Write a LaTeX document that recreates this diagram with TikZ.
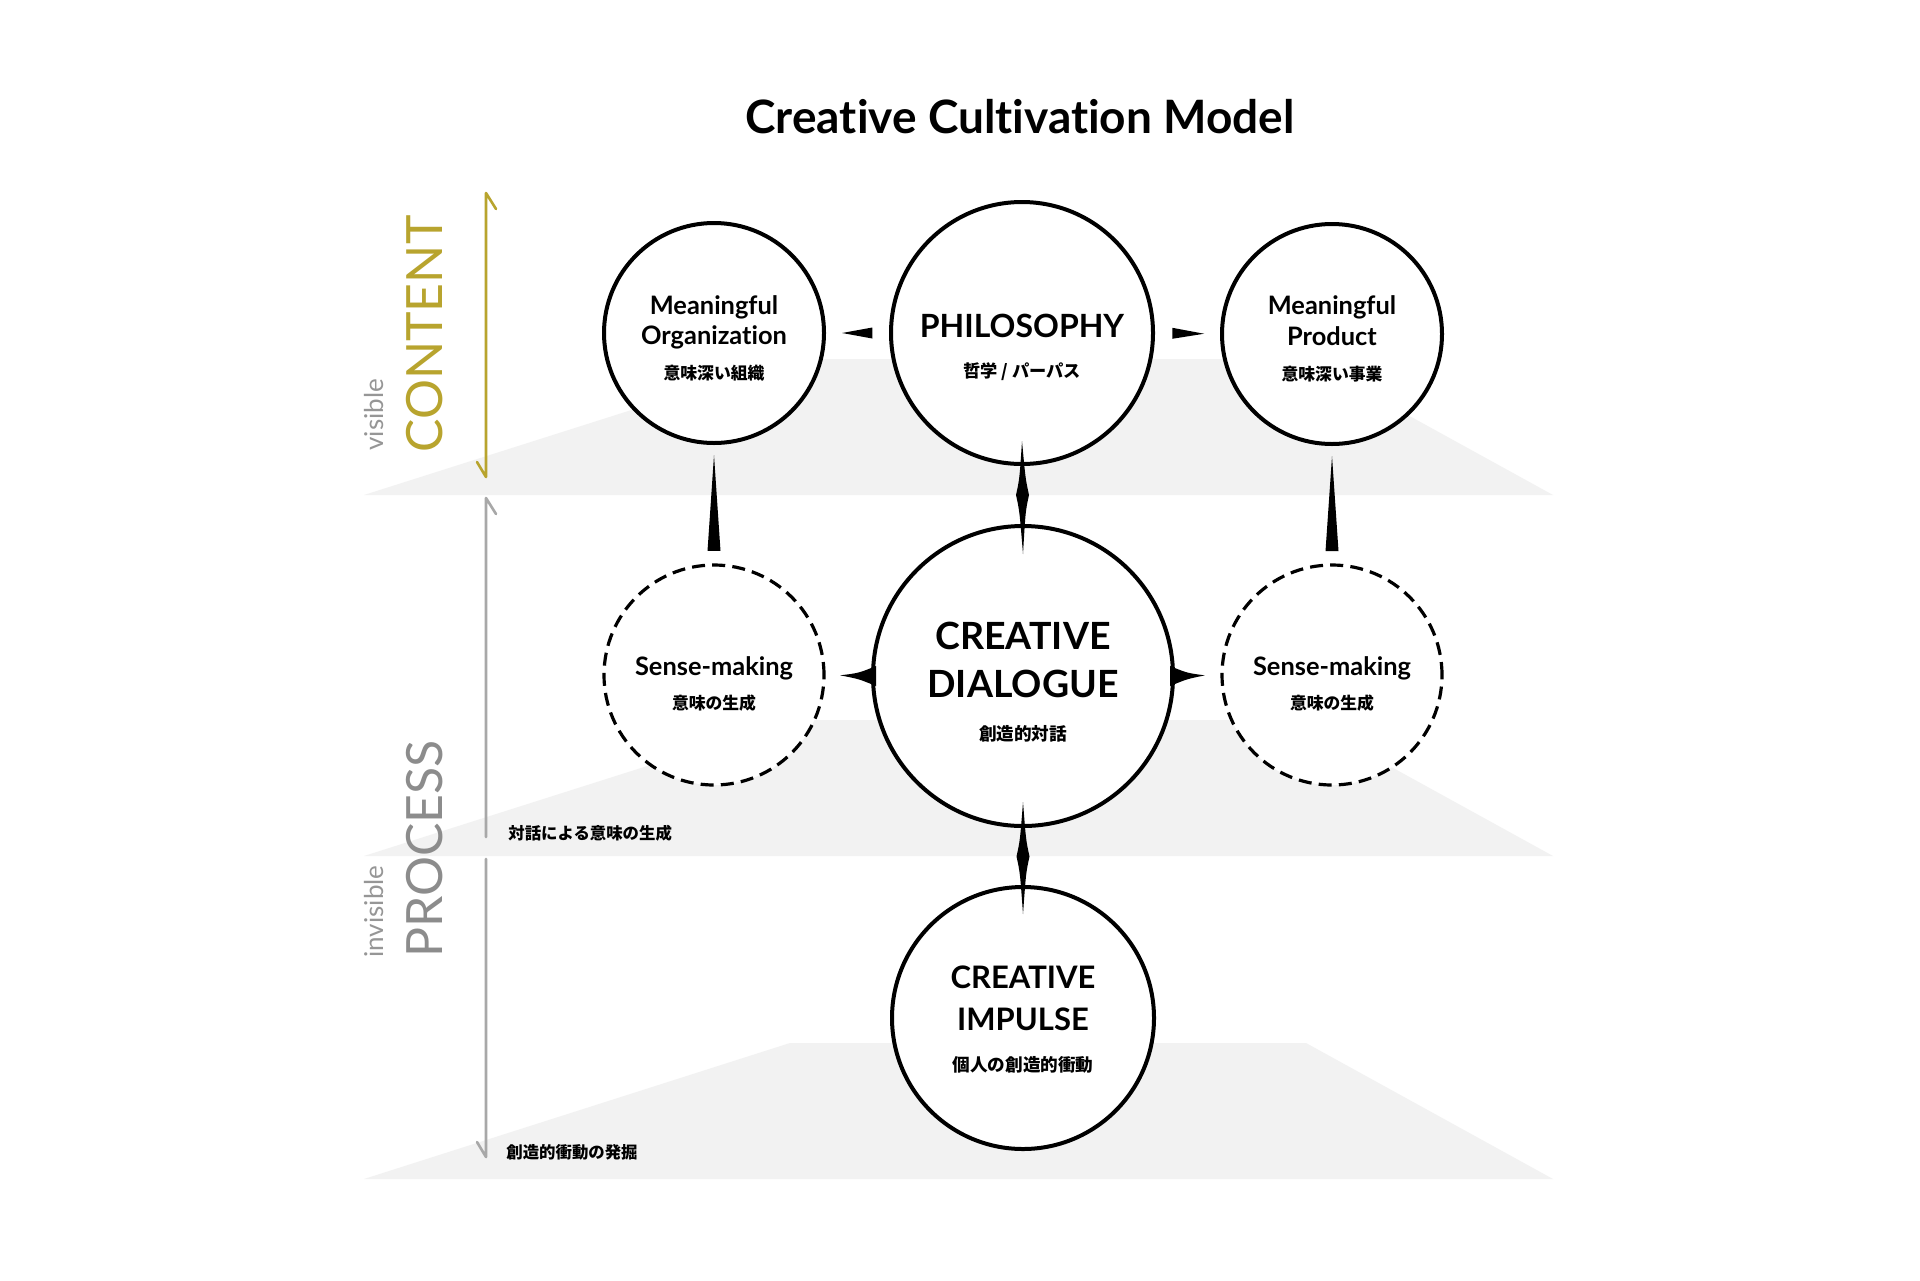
\documentclass[tikz,border=0pt]{standalone}
\usepackage{fontspec}
\setmainfont{Lato}[Ligatures=NoCommon,RawFeature=-liga]
\newfontfamily\jp{Noto Sans CJK JP}
\usetikzlibrary{calc}
\definecolor{gold}{RGB}{184,164,46}
\definecolor{axisgrey}{RGB}{168,168,168}
\definecolor{txtgrey}{RGB}{150,150,150}
\definecolor{procgrey}{RGB}{140,140,140}
\definecolor{plane}{RGB}{242,242,242}
\begin{document}
\begin{tikzpicture}[x=0.5pt,y=-0.5pt,
  bubble/.style={circle,draw=black,line width=2pt,fill=white,inner sep=0pt,outer sep=0pt},
  dashbubble/.style={bubble,line width=1.6pt,dash pattern=on 6.5pt off 3.6pt},
  en/.style={inner sep=0pt,text height=0.72em,text depth=0pt,font=\bfseries\fontsize{#1}{#1}\selectfont},
  ja/.style={inner sep=0pt,text height=0.76em,text depth=0pt,font=\jp\bfseries\fontsize{#1}{#1}\selectfont},
  axislbl/.style={rotate=90,anchor=base west,inner sep=0pt,font=\fontsize{#1}{#1}\selectfont},
  axisline/.style={line width=1.3pt,line cap=round,line join=round},
  planefill/.style={fill=plane},
  spike/.style={fill=black}
]
\fill[white] (0,0) rectangle (1920,1280);
\useasboundingbox (0,0) rectangle (1920,1280);

% planes
\fill[planefill] (364,495) -- (1553,495) -- (1306,359) -- (792,359) -- cycle;
\fill[planefill] (364,856) -- (1553,856) -- (1306,720) -- (792,720) -- cycle;
\fill[planefill] (364,1179) -- (1553,1179) -- (1306,1043) -- (790,1043) -- cycle;

% title
\node[en={23}] (title) at (1020,126) {Creative Cultivation Model};

% axis labels
\node[axislbl={13},text=txtgrey] (visible) at (383,451) {visible};
\node[axislbl={25},text=gold] (content) at (442,453) {CONTENT};
\node[axislbl={13},text=txtgrey] (invisible) at (383,958) {invisible};
\node[axislbl={25},text=procgrey] (process) at (442,958) {PROCESS};

% axis arrows
\coordinate (cTop) at (486,193);
\coordinate (cBot) at (486,477);
\draw[axisline,gold] ($(cTop)+(10,16)$) -- (cTop) -- (cBot) -- ($(cBot)+(-9,-15)$);
\coordinate (pTop) at (486,498);
\coordinate (pGapA) at (486,837);
\coordinate (pGapB) at (486,859);
\coordinate (pBot) at (486,1157);
\draw[axisline,axisgrey] ($(pTop)+(10,16)$) -- (pTop) -- (pGapA);
\draw[axisline,axisgrey] (pGapB) -- (pBot) -- ($(pBot)+(-9,-15)$);

% layer labels
\node[ja={8.2},anchor=west] (lay2) at (508,832) {対話による意味の生成};
\node[ja={8.2},anchor=west] (lay3) at (506,1151) {創造的衝動の発掘};

% circles
\node[bubble,minimum size=110pt] (org) at (714,333) {};
\node[bubble,minimum size=131pt] (phil) at (1022,333) {};
\node[bubble,minimum size=110pt] (prod) at (1332,334) {};
\node[dashbubble,minimum size=110pt] (senseL) at (714,675) {};
\node[bubble,minimum size=150pt] (dial) at (1023,676) {};
\node[dashbubble,minimum size=110pt] (senseR) at (1332,675) {};
\node[bubble,minimum size=131pt] (imp) at (1023,1018) {};

% circle texts
\node[en={12.7}] (orgA) at ($(org.center)+(0,-26)$) {Meaningful};
\node[en={12.7}] (orgB) at ($(org.center)+(0,4)$) {Organization};
\node[ja={8.4}] (orgC) at ($(org.center)+(0,39)$) {意味深い組織};

\node[en={16}] (philA) at ($(phil.center)+(0,-3)$) {PHILOSOPHY};
\node[ja={8.6}] (philB) at ($(phil.center)+(0,37)$) {哲学 / パーパス};

\node[en={12.7}] (prodA) at ($(prod.center)+(0,-27)$) {Meaningful};
\node[en={12.7}] (prodB) at ($(prod.center)+(0,4)$) {Product};
\node[ja={8.4}] (prodC) at ($(prod.center)+(0,39)$) {意味深い事業};

\node[en={12.7}] (senseLA) at ($(senseL.center)+(0,-7)$) {Sense-making};
\node[ja={8.4}] (senseLB) at ($(senseL.center)+(0,27)$) {意味の生成};
\node[en={12.7}] (senseRA) at ($(senseR.center)+(0,-7)$) {Sense-making};
\node[ja={8.4}] (senseRB) at ($(senseR.center)+(0,27)$) {意味の生成};

\node[en={18.75}] (dialA) at ($(dial.center)+(0,-34)$) {CREATIVE};
\node[en={18.75}] (dialB) at ($(dial.center)+(0,14)$) {DIALOGUE};
\node[ja={8.8}] (dialC) at ($(dial.center)+(0,57)$) {創造的対話};

\node[en={15.5}] (impA) at ($(imp.center)+(0,-37)$) {CREATIVE};
\node[en={15.5}] (impB) at ($(imp.center)+(0,5)$) {IMPULSE};
\node[ja={8.8}] (impC) at ($(imp.center)+(0,46)$) {個人の創造的衝動};

% connectors: philosophy row triangles
\fill[spike] ($(org.east)!0.27!(phil.west)$) -- ($(org.east)!0.72!(phil.west)+(0,-5.5)$) -- ($(org.east)!0.72!(phil.west)+(0,5.5)$) -- cycle;
\fill[spike] ($(phil.east)!0.74!(prod.west)$) -- ($(phil.east)!0.28!(prod.west)+(0,-5.5)$) -- ($(phil.east)!0.28!(prod.west)+(0,5.5)$) -- cycle;

% vertical spikes to sense-making
\fill[spike] ($(org.south)!0.1!(senseL.north)$) -- ($(org.south)!0.885!(senseL.north)+(-6.5,0)$) -- ($(org.south)!0.885!(senseL.north)+(6.5,0)$) -- cycle;
\fill[spike] ($(prod.south)!0.1!(senseR.north)$) -- ($(prod.south)!0.885!(senseR.north)+(-6.5,0)$) -- ($(prod.south)!0.885!(senseR.north)+(6.5,0)$) -- cycle;

% dialogue side wedges
\coordinate (wL) at ($(senseL.east)!0.33!(dial.west)$);
\fill[spike] (wL) .. controls ($(dial.west)+(-14,-3)$) .. ($(dial.west)+(3,-10)$) -- ($(dial.west)+(3,10)$) .. controls ($(dial.west)+(-14,3)$) .. (wL) -- cycle;
\coordinate (wR) at ($(dial.east)!0.65!(senseR.west)$);
\fill[spike] (wR) .. controls ($(dial.east)+(14,-3)$) .. ($(dial.east)+(-3,-10)$) -- ($(dial.east)+(-3,10)$) .. controls ($(dial.east)+(14,3)$) .. (wR) -- cycle;

% diamonds
\coordinate (mPD) at ($(phil.south)!0.5!(dial.north)$);
\coordinate (tPD) at ($(phil.south)+(0,-23)$);
\coordinate (bPD) at ($(dial.north)+(0,28)$);
\fill[spike] (tPD) .. controls ($(mPD)+(-3,-16)$) .. ($(mPD)+(-6.5,0)$) .. controls ($(mPD)+(-3,16)$) .. (bPD) .. controls ($(mPD)+(3,16)$) .. ($(mPD)+(6.5,0)$) .. controls ($(mPD)+(3,-16)$) .. (tPD) -- cycle;
\coordinate (mDI) at ($(dial.south)!0.5!(imp.north)$);
\coordinate (tDI) at ($(dial.south)+(0,-24)$);
\coordinate (bDI) at ($(imp.north)+(0,27)$);
\fill[spike] (tDI) .. controls ($(mDI)+(-3,-16)$) .. ($(mDI)+(-6.5,0)$) .. controls ($(mDI)+(-3,16)$) .. (bDI) .. controls ($(mDI)+(3,16)$) .. ($(mDI)+(6.5,0)$) .. controls ($(mDI)+(3,-16)$) .. (tDI) -- cycle;
\end{tikzpicture}
\end{document}
